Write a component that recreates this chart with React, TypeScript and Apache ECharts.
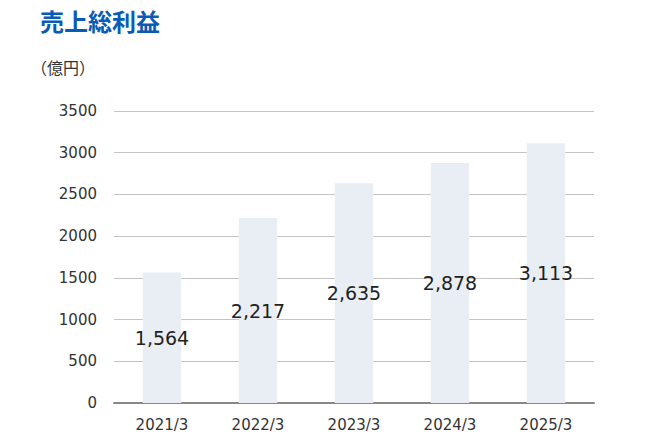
import React, { useEffect, useRef } from "react";
import * as echarts from "echarts";

const categories = ["2021/3", "2022/3", "2023/3", "2024/3", "2025/3"];
const grossProfit = [1564, 2217, 2635, 2878, 3113];
const yTicks = [0, 500, 1000, 1500, 2000, 2500, 3000, 3500];

export default function App() {
  const ref = useRef<HTMLDivElement>(null);
  useEffect(() => {
    document.body.style.margin = "0";
    const chart = echarts.init(ref.current!, null, { renderer: "svg" });
    chart.setOption({
      animation: false,
      graphic: [
        {
          type: "text",
          left: 40,
          top: 8,
          style: {
            text: "売上総利益",
            fill: "#0a5bb5",
            font: 'bold 24px "Noto Sans CJK JP"',
          },
        },
        {
          type: "text",
          left: 31,
          top: 59,
          style: {
            text: "（億円）",
            fill: "#333",
            font: '16px "Noto Sans CJK JP"',
          },
        },
      ],
      grid: { left: 114, right: 64, top: 111, bottom: 36, containLabel: false },
      xAxis: {
        type: "category",
        data: categories,
        axisTick: { show: false },
        axisLine: { lineStyle: { color: "#888", width: 2 } },
        axisLabel: { color: "#333", fontSize: 15, fontFamily: "DejaVu Sans", margin: 14 },
      },
      yAxis: {
        type: "value",
        min: yTicks[0],
        max: yTicks[yTicks.length - 1],
        interval: 500,
        axisLine: { show: false },
        axisTick: { show: false },
        splitLine: { lineStyle: { color: "#c4c4c4", width: 1 } },
        axisLabel: {
          color: "#333",
          fontSize: 15,
          fontFamily: "DejaVu Sans",
          margin: 17,
          formatter: (v: number) => String(v),
        },
      },
      series: [
        {
          type: "bar",
          data: grossProfit,
          barWidth: "40%",
          itemStyle: { color: "#e9eef4" },
          label: {
            show: true,
            position: "inside",
            color: "#222",
            fontSize: 19,
            fontFamily: "DejaVu Sans",
            formatter: (p: any) => p.value.toLocaleString("en-US"),
          },
        },
      ],
    });
    return () => chart.dispose();
  }, []);
  return <div ref={ref} style={{ width: 658, height: 439 }} />;
}
